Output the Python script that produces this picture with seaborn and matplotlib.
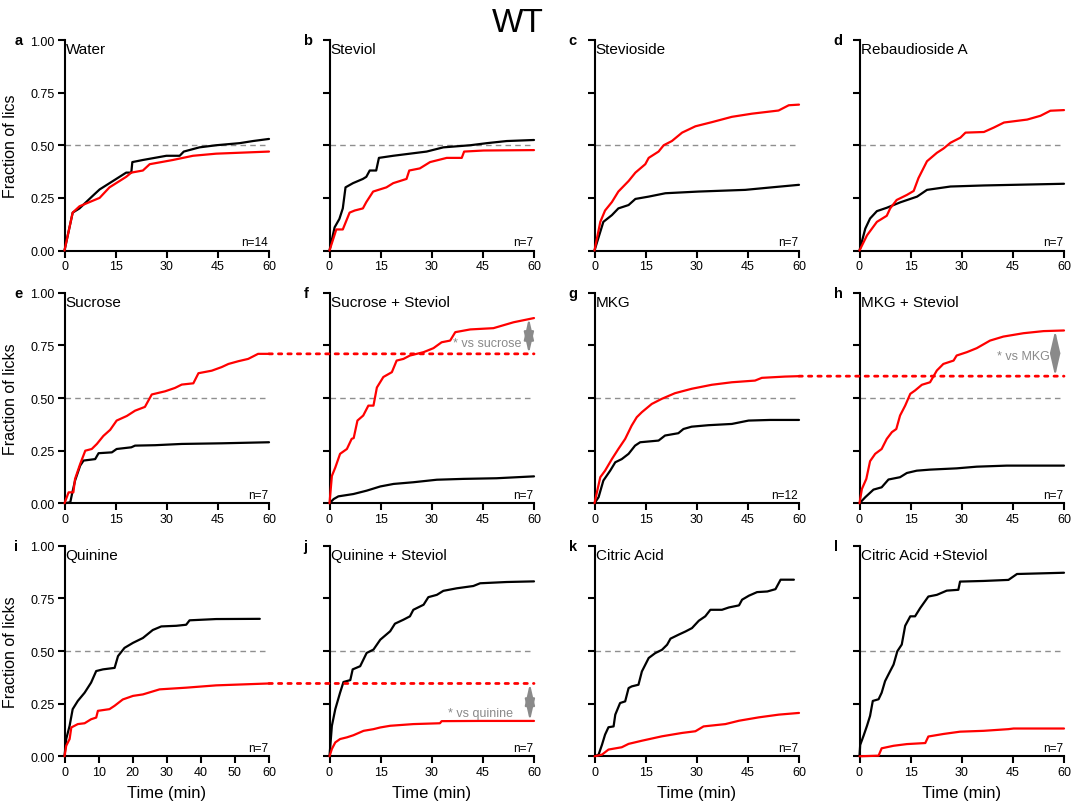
import matplotlib
matplotlib.use('Agg')
import matplotlib.pyplot as plt
from matplotlib.patches import ConnectionPatch
import seaborn as sns
import pandas as pd

# cumulative lick fraction curves, (time min, fraction)
water_black = [(0, 0), (2.4, 0.18), (4.4, 0.2), (8.3, 0.26), (10.3, 0.29), (14.2, 0.33), (18.1, 0.37),
               (19.6, 0.37), (19.9, 0.42), (23, 0.43), (29.9, 0.45), (33.8, 0.45), (35, 0.47), (39.6, 0.49),
               (44.5, 0.5), (51.4, 0.51), (55.3, 0.52), (60, 0.53)]
water_red = [(0, 0), (2.4, 0.18), (4.4, 0.21), (10.3, 0.25), (13.2, 0.3), (18.1, 0.35), (19.6, 0.37),
             (23, 0.38), (25, 0.41), (31.8, 0.43), (37.7, 0.45), (44.5, 0.46), (60, 0.47)]

steviol_black = [(0, 0), (1.5, 0.11), (2.9, 0.15), (3.9, 0.2), (4.7, 0.3), (6.9, 0.32), (9.8, 0.34),
                 (10.8, 0.35), (11.8, 0.38), (13.7, 0.38), (14.5, 0.44), (18.7, 0.45), (23.6, 0.46),
                 (28.5, 0.47), (33.4, 0.49), (41.3, 0.5), (46.2, 0.51), (52, 0.52), (60, 0.525)]
steviol_red = [(0, 0), (2, 0.1), (3.9, 0.1), (5.9, 0.18), (7.4, 0.19), (9.8, 0.2), (10.8, 0.23), (12.8, 0.28),
               (16.7, 0.3), (18.7, 0.32), (22.6, 0.34), (23.4, 0.38), (26.5, 0.39), (29.5, 0.42), (34.4, 0.44),
               (38.8, 0.44), (39.5, 0.47), (45.2, 0.475), (60, 0.477)]

stevioside_black = [(0, 0), (2.6, 0.136), (5.1, 0.168), (7, 0.2), (10, 0.216), (12, 0.245), (15.9, 0.256),
                    (20.8, 0.272), (30.5, 0.28), (44.2, 0.288), (52, 0.3), (60, 0.312)]
stevioside_red = [(0, 0), (1.7, 0.136), (3.1, 0.19), (5.1, 0.23), (7, 0.28), (10, 0.33), (12, 0.37),
                  (14.9, 0.41), (15.9, 0.44), (18.8, 0.47), (20.3, 0.5), (22.7, 0.52), (25.7, 0.56),
                  (29.6, 0.59), (34.5, 0.61), (40.3, 0.635), (46.2, 0.65), (54, 0.665), (57, 0.69), (60, 0.693)]

rebA_black = [(0, 0), (1.7, 0.104), (3.1, 0.152), (5.1, 0.187), (8, 0.203), (12, 0.229), (16.9, 0.256),
              (19.8, 0.288), (26.7, 0.304), (36.5, 0.309), (60, 0.317)]
rebA_red = [(0, 0), (2.2, 0.072), (5.1, 0.136), (8, 0.165), (9, 0.2), (10.9, 0.24), (13.9, 0.264),
            (15.9, 0.283), (17.3, 0.344), (19.8, 0.424), (22.7, 0.464), (24.7, 0.485), (26.7, 0.512),
            (29.6, 0.536), (31.1, 0.56), (36.5, 0.563), (39.4, 0.584), (42.4, 0.608), (49.2, 0.622),
            (53.1, 0.64), (56, 0.664), (60, 0.667)]

sucrose_black = [(0, 0), (1.7, 0.005), (2.2, 0.044), (3.1, 0.108), (4.6, 0.179), (5.6, 0.203), (9, 0.21),
                 (10, 0.238), (13.9, 0.242), (15.3, 0.258), (19.6, 0.266), (20.7, 0.274), (26.6, 0.276),
                 (34.4, 0.282), (46.1, 0.285), (60, 0.29)]
sucrose_red = [(0, 0), (1.2, 0.052), (2.6, 0.052), (3.1, 0.116), (4.6, 0.187), (6.1, 0.25), (8, 0.258),
               (9.5, 0.282), (11.4, 0.32), (13.4, 0.349), (15.3, 0.393), (18.3, 0.415), (20.7, 0.44),
               (23.6, 0.458), (25.6, 0.517), (29.5, 0.532), (32.4, 0.548), (34.4, 0.564), (37.8, 0.57),
               (39.3, 0.618), (43.2, 0.63), (46.1, 0.647), (48.1, 0.662), (51, 0.675), (53.9, 0.686),
               (56.8, 0.71), (60, 0.71)]

sucstev_black = [(0, 0), (1.2, 0.02), (2.6, 0.033), (7, 0.044), (10.9, 0.06), (14.9, 0.08), (18.8, 0.092),
                 (24.6, 0.1), (31.5, 0.112), (39.3, 0.116), (49, 0.119), (60, 0.128)]
sucstev_red = [(0, 0), (0.7, 0.13), (1.7, 0.17), (3.1, 0.235), (5.1, 0.258), (6.5, 0.306), (7.1, 0.31),
               (8.2, 0.393), (9.9, 0.417), (11.4, 0.464), (12.9, 0.464), (13.9, 0.55), (15.8, 0.6),
               (18.3, 0.623), (19.7, 0.678), (21.7, 0.686), (23.6, 0.702), (27.6, 0.718), (30.5, 0.737),
               (32.9, 0.765), (35.4, 0.773), (36.9, 0.813), (41.3, 0.826), (48.1, 0.832), (54, 0.86),
               (60, 0.88)]

mkg_black = [(0, 0), (1.2, 0.029), (2.6, 0.108), (4.6, 0.155), (6.1, 0.195), (8, 0.21), (10, 0.235),
             (11.9, 0.274), (13.4, 0.29), (18.8, 0.298), (20.7, 0.322), (24.6, 0.333), (26.1, 0.353),
             (28.5, 0.364), (33.4, 0.371), (40.3, 0.377), (45.2, 0.393), (51.5, 0.396), (60, 0.396)]
mkg_red = [(0, 0), (0.7, 0.052), (1.7, 0.124), (3.1, 0.155), (5.1, 0.21), (7, 0.258), (9, 0.306),
           (10.9, 0.369), (12.4, 0.409), (13.9, 0.433), (16.8, 0.472), (19.7, 0.496), (23.6, 0.523),
           (28.5, 0.544), (34.4, 0.563), (40.3, 0.575), (47.1, 0.583), (49.1, 0.596), (55.9, 0.602),
           (60, 0.604)]

mkgstev_black = [(0, 0), (1.7, 0.029), (4.1, 0.065), (6.5, 0.076), (8.5, 0.113), (11.9, 0.124),
                 (13.9, 0.144), (16.8, 0.155), (20.7, 0.16), (28.5, 0.166), (34.4, 0.174), (43.2, 0.179),
                 (60, 0.179)]
mkgstev_red = [(0, 0), (0.7, 0.068), (2, 0.116), (3.1, 0.2), (4.6, 0.235), (6.5, 0.258), (8, 0.306),
               (9.5, 0.338), (10.8, 0.353), (11.9, 0.417), (13.4, 0.464), (14.9, 0.52), (16.3, 0.536),
               (18.3, 0.563), (20.7, 0.575), (22.7, 0.631), (24.6, 0.662), (27.6, 0.678), (28.5, 0.702),
               (31.5, 0.718), (34.4, 0.737), (38.3, 0.773), (42.2, 0.792), (48.1, 0.808), (54, 0.818),
               (60, 0.821)]

quinine_black = [(0, 0), (0.5, 0.082), (1.5, 0.145), (2.4, 0.224), (3.9, 0.263), (5.9, 0.302), (7.8, 0.35),
                 (9.3, 0.405), (11.3, 0.413), (14.7, 0.42), (15.7, 0.476), (17.6, 0.515), (20.1, 0.539),
                 (23, 0.562), (25.9, 0.6), (28.4, 0.617), (32.8, 0.62), (35.7, 0.625), (36.7, 0.646),
                 (44.5, 0.652), (57.3, 0.653)]
quinine_red = [(0, 0), (0.5, 0.05), (1.5, 0.082), (2, 0.137), (3.9, 0.153), (5.9, 0.157), (7.8, 0.176),
               (9.3, 0.184), (9.8, 0.216), (13.2, 0.224), (14.7, 0.24), (17.1, 0.27), (20.1, 0.287),
               (23, 0.294), (27.9, 0.318), (35.7, 0.326), (44.5, 0.337), (60, 0.346)]

quistev_black = [(0, 0), (0.7, 0.145), (1.7, 0.224), (3.1, 0.302), (4.1, 0.353), (6.1, 0.362), (6.8, 0.413),
                 (9, 0.428), (10.9, 0.491), (12.9, 0.507), (14.9, 0.554), (17.8, 0.594), (19.2, 0.63),
                 (21.7, 0.649), (23.6, 0.665), (24.6, 0.696), (27.6, 0.72), (29, 0.756), (31.5, 0.767),
                 (33.4, 0.786), (37.3, 0.798), (42.2, 0.809), (44.2, 0.822), (52, 0.828), (60, 0.831)]
quistev_red = [(0, 0), (0.7, 0.035), (1.7, 0.066), (3.1, 0.082), (5.1, 0.09), (7, 0.1), (10, 0.121),
               (12.9, 0.129), (14.9, 0.137), (17.8, 0.145), (24.6, 0.153), (32.4, 0.157), (32.9, 0.167),
               (44.2, 0.168), (60, 0.168)]

citric_black = [(0, 0), (1.2, 0.008), (2.2, 0.055), (3.1, 0.103), (4.1, 0.138), (5.6, 0.142), (6.1, 0.198),
                (7.5, 0.253), (9, 0.261), (10, 0.324), (10.9, 0.332), (12.9, 0.34), (13.9, 0.403),
                (15.9, 0.467), (17.8, 0.49), (19.8, 0.506), (21.3, 0.53), (22.3, 0.559), (24.7, 0.578),
                (26.7, 0.593), (28.6, 0.609), (30.6, 0.644), (32.5, 0.665), (34, 0.696), (37.4, 0.696),
                (39.4, 0.707), (42.4, 0.717), (43.3, 0.744), (45.3, 0.763), (47.7, 0.78), (50.7, 0.783),
                (53.1, 0.794), (54.6, 0.839), (58.5, 0.839)]
citric_red = [(0, 0), (2.2, 0.008), (4.1, 0.032), (8, 0.043), (10, 0.059), (13.9, 0.074), (19.8, 0.095),
              (25.7, 0.111), (29.6, 0.119), (32, 0.142), (38.4, 0.153), (42.4, 0.169), (48.2, 0.185),
              (54.1, 0.198), (60, 0.206)]

citstev_black = [(0, 0), (0.2, 0.054), (1.2, 0.098), (2.2, 0.145), (3.1, 0.192), (3.9, 0.263), (5.6, 0.271),
                 (6.5, 0.302), (7.5, 0.357), (8.5, 0.389), (10, 0.436), (11.1, 0.499), (12.4, 0.531),
                 (13.4, 0.62), (14.9, 0.665), (16.3, 0.665), (17.8, 0.704), (20.2, 0.759), (22.7, 0.767),
                 (25.6, 0.787), (29, 0.791), (29.5, 0.83), (36.4, 0.833), (43.7, 0.838), (46.2, 0.866),
                 (60, 0.872)]
citstev_red = [(0, 0), (5.6, 0.003), (6.5, 0.038), (10, 0.05), (13.9, 0.058), (19.3, 0.063), (20.2, 0.094),
               (24.6, 0.106), (29.5, 0.117), (36.4, 0.121), (43.7, 0.129), (45.2, 0.132), (60, 0.132)]

letters = ['a', 'b', 'c', 'd', 'e', 'f', 'g', 'h', 'i', 'j', 'k', 'l']
titles = ['Water', 'Steviol', 'Stevioside', 'Rebaudioside A',
          'Sucrose', 'Sucrose + Steviol', 'MKG', 'MKG + Steviol',
          'Quinine', 'Quinine + Steviol', 'Citric Acid', 'Citric Acid +Steviol']
n_labels = ['n=14', 'n=7', 'n=7', 'n=7', 'n=7', 'n=7', 'n=12', 'n=7', 'n=7', 'n=7', 'n=7', 'n=7']
black_curves = [water_black, steviol_black, stevioside_black, rebA_black,
                sucrose_black, sucstev_black, mkg_black, mkgstev_black,
                quinine_black, quistev_black, citric_black, citstev_black]
red_curves = [water_red, steviol_red, stevioside_red, rebA_red,
              sucrose_red, sucstev_red, mkg_red, mkgstev_red,
              quinine_red, quistev_red, citric_red, citstev_red]
ylabels = ['Fraction of lics', 'Fraction of licks', 'Fraction of licks']

# comparison arrows: (from panel, to panel, arrow x, label, label x, label y, label ha)
comparisons = [(4, 5, 58.5, '* vs sucrose', 56.4, 0.762, 'right'),
               (6, 7, 57.4, '* vs MKG', 55.9, 0.70, 'right'),
               (8, 9, 58.8, '* vs quinine', 44.2, 0.208, 'center')]

sns.set_style('ticks')
plt.rcParams['font.family'] = ['Liberation Sans', 'DejaVu Sans']
plt.rcParams['text.color'] = 'black'
plt.rcParams['axes.labelcolor'] = 'black'

fig = plt.figure(figsize=(10.72, 8.03), dpi=100)
W, H = 1072, 803
col_left = [64.5, 329.5, 594.5, 859.5]
row_bottom = [251.5, 504.3, 757.3]
axes = []
for i in range(12):
    r, c = divmod(i, 4)
    ax = fig.add_axes([col_left[c] / W, 1 - row_bottom[r] / H, 204.5 / W, 210.5 / H])
    axes.append(ax)

    ax.axhline(0.5, color='#8f8f8f', lw=1, dashes=(4, 3), zorder=1)
    for curve, color in [(black_curves[i], 'black'), (red_curves[i], '#ff0000')]:
        df = pd.DataFrame(curve, columns=['time', 'frac'])
        sns.lineplot(data=df, x='time', y='frac', ax=ax, color=color, lw=1.6,
                     estimator=None, sort=False, clip_on=False, zorder=3)

    ax.set_xlim(0, 60)
    ax.set_ylim(0, 1)
    if i == 8:
        ax.set_xticks([0, 10, 20, 30, 40, 50, 60])
    else:
        ax.set_xticks([0, 15, 30, 45, 60])
    ax.set_yticks([0, 0.25, 0.5, 0.75, 1.0])
    if c == 0:
        ax.set_yticklabels(['0.00', '0.25', '0.50', '0.75', '1.00'])
        ax.set_ylabel(ylabels[r], fontsize=11.5)
        ax.yaxis.set_label_coords(-0.225, 0.5)
    else:
        ax.set_yticklabels([])
        ax.set_ylabel('')
    if r == 2:
        ax.set_xlabel('Time (min)', fontsize=12)
        ax.xaxis.set_label_coords(0.5, -0.135)
    else:
        ax.set_xlabel('')

    sns.despine(ax=ax)
    for side in ['left', 'bottom']:
        ax.spines[side].set_linewidth(1.5)
        ax.spines[side].set_color('black')
    ax.tick_params(direction='out', length=5, width=1.5, labelsize=9, colors='black', pad=2)

    ax.text(0.005, 0.99, titles[i], transform=ax.transAxes, ha='left', va='top', fontsize=11)
    ax.text(0.995, 0.012, n_labels[i], transform=ax.transAxes, ha='right', va='bottom', fontsize=8.5)
    lx = -0.245 if c == 0 else -0.127
    ax.text(lx, 1.0, letters[i], transform=ax.transAxes, ha='left', va='center',
            fontsize=10.5, fontweight='bold')

# dotted red reference lines carried over to the steviol panels, with arrows
for src, dst, ax_x, label, tx, ty, ha in comparisons:
    ref = red_curves[src][-1][1]
    end = red_curves[dst][-1][1]
    con = ConnectionPatch(xyA=(60, ref), coordsA=axes[src].transData,
                          xyB=(60, ref), coordsB=axes[dst].transData,
                          color='#ff0000', lw=2, linestyle=(0, (1.2, 2.2)), zorder=4)
    fig.add_artist(con)
    axes[dst].annotate('', xy=(ax_x, end), xytext=(ax_x, ref),
                       arrowprops=dict(arrowstyle='<|-|>,head_width=0.3,head_length=1.3',
                                       color='#8a8a8a', lw=1.5, shrinkA=0, shrinkB=0))
    axes[dst].text(tx, ty, label, ha=ha, va='center', fontsize=9, color='#8a8a8a')

fig.text(518 / W, 1 - 23 / H, 'WT', ha='center', va='center', fontsize=24)

fig.savefig('out.png', dpi=100)
